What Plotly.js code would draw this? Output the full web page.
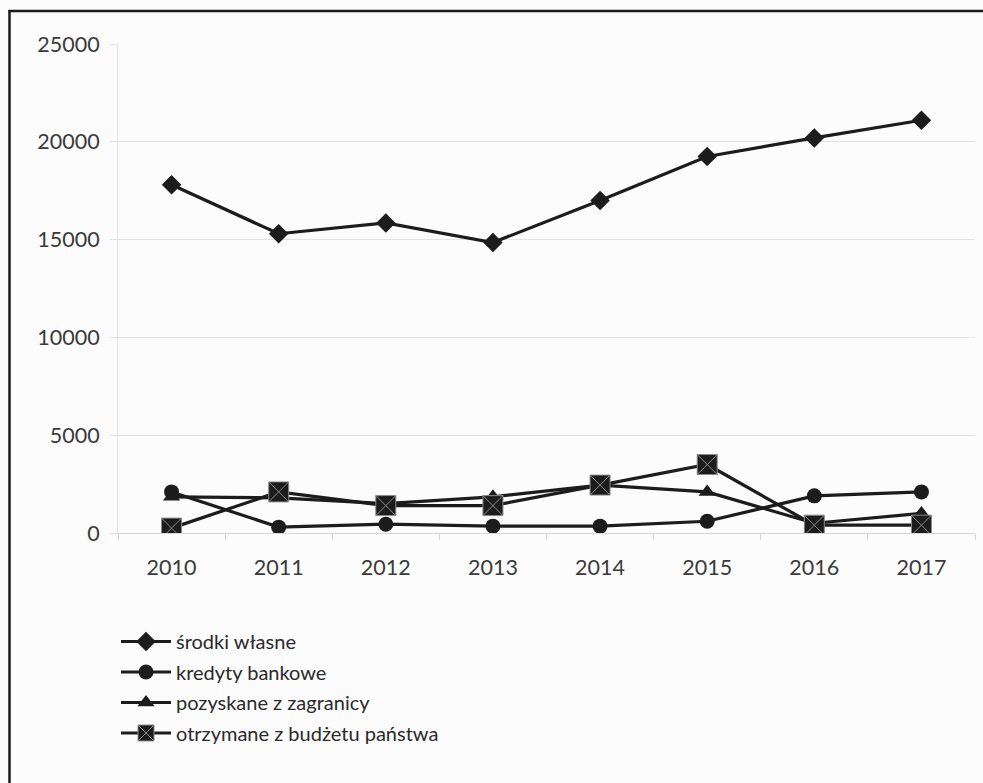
<!DOCTYPE html>
<html>
<head>
<meta charset="utf-8">
<script src="https://cdn.plot.ly/plotly-3.0.1.min.js"></script>
<style>
  html, body { margin: 0; padding: 0; background: #ffffff; }
  #chart { width: 983px; height: 783px; }
</style>
</head>
<body>
<div id="chart"></div>
<script>
// Years on the category axis
const years = ["2010", "2011", "2012", "2013", "2014", "2015", "2016", "2017"];

// Funding sources (values per year)
const srodkiWlasne = [17800, 15300, 15850, 14850, 17000, 19250, 20200, 21100];
const kredytyBankowe = [2100, 300, 450, 350, 350, 600, 1900, 2100];
const pozyskaneZZagranicy = [1850, 1800, 1500, 1850, 2450, 2100, 500, 1000];
const zBudzetuPanstwa = [250, 2100, 1400, 1400, 2450, 3500, 400, 400];

const seriesNames = [
  "środki własne",
  "kredyty bankowe",
  "pozyskane z zagranicy",
  "otrzymane z budżetu państwa"
];

const ink = "#1c1c1c";
const lineW = 3.2;

function series(name, values, symbol, size, group, extraMarker) {
  return {
    type: "scatter",
    mode: "lines+markers",
    name: name,
    legendgroup: group,
    x: years,
    y: values,
    line: { color: ink, width: lineW },
    marker: Object.assign({ symbol: symbol, size: size, color: ink }, extraMarker || {}),
    hoverinfo: "x+y+name"
  };
}

const traces = [
  series(seriesNames[0], srodkiWlasne, "diamond", 15, "a"),
  series(seriesNames[1], kredytyBankowe, "circle", 15, "b"),
  series(seriesNames[2], pozyskaneZZagranicy, "triangle-up", 15, "c"),
  series(seriesNames[3], zBudzetuPanstwa, "square-x", 20, "d",
         { line: { color: "#8a8a8a", width: 1 } })
];

// plot area in pixels: x 118..975, y 44..533
const L = 118, R = 975, T = 44, B = 533;
const W = 983, H = 783;
const px = v => (v - L) / (R - L);
const py = v => (B - v) / (B - T);

const gridCol = "#e3e3e3";
const axisCol = "#d6d6d6";
const txtCol = "#3a3a3a";
const tickFont = { family: "Lato, 'Open Sans', sans-serif", size: 21.5, color: txtCol };

const layout = {
  width: W,
  height: H,
  paper_bgcolor: "#fcfcfc",
  plot_bgcolor: "#fcfcfc",
  margin: { l: L, r: W - R, t: T, b: H - B, autoexpand: false },
  font: { family: "Lato, 'Open Sans', sans-serif", size: 20, color: txtCol },
  showlegend: true,
  legend: {
    xref: "container",
    yref: "container",
    x: 116 / W,
    y: 1 - 622 / H,
    xanchor: "left",
    yanchor: "top",
    orientation: "v",
    bgcolor: "rgba(0,0,0,0)",
    traceorder: "grouped",
    tracegroupgap: 1.5,
    itemsizing: "trace",
    itemwidth: 50,
    font: { family: "Lato, 'Open Sans', sans-serif", size: 20, color: "#2a2a2a" }
  },
  xaxis: {
    type: "category",
    categoryorder: "array",
    categoryarray: years,
    range: [-0.5, 7.5],
    showgrid: false,
    zeroline: false,
    showline: true,
    linecolor: axisCol,
    linewidth: 1,
    ticks: "outside",
    tickson: "boundaries",
    ticklen: 6,
    tickcolor: axisCol,
    ticklabelstandoff: 15,
    tickfont: tickFont,
    fixedrange: true
  },
  yaxis: {
    range: [0, 25000],
    tickmode: "linear",
    tick0: 0,
    dtick: 5000,
    tickformat: "d",
    exponentformat: "none",
    showgrid: true,
    gridcolor: gridCol,
    gridwidth: 1,
    zeroline: false,
    showline: true,
    linecolor: gridCol,
    linewidth: 1,
    ticks: "outside",
    ticklen: 7,
    tickcolor: gridCol,
    ticklabelstandoff: 6,
    tickfont: tickFont,
    fixedrange: true
  },
  shapes: [
    {
      // frame: top edge
      type: "line",
      xref: "paper",
      yref: "paper",
      x0: px(8.5),
      x1: px(1000),
      y0: py(11),
      y1: py(11),
      line: { color: "#1a1a1a", width: 2.5 },
      layer: "above"
    },
    {
      // frame: left edge
      type: "line",
      xref: "paper",
      yref: "paper",
      x0: px(9.5),
      x1: px(9.5),
      y0: py(10),
      y1: py(820),
      line: { color: "#1a1a1a", width: 2.5 },
      layer: "above"
    }
  ]
};

Plotly.newPlot("chart", traces, layout, { displayModeBar: false, staticPlot: true });
</script>
</body>
</html>
